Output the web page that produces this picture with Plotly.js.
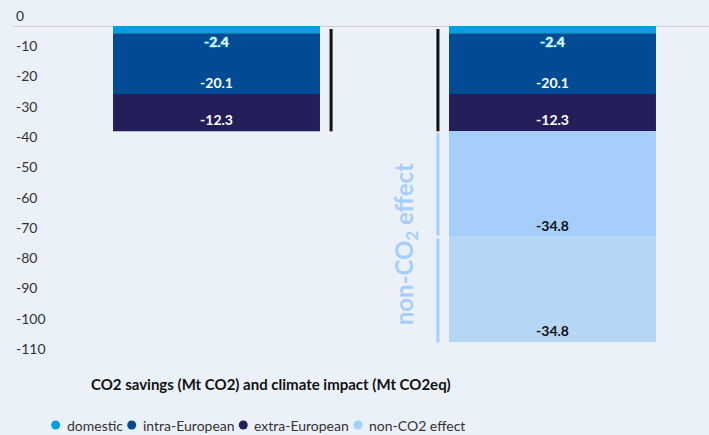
<!DOCTYPE html>
<html>
<head>
<meta charset="utf-8">
<script src="https://cdn.plot.ly/plotly-3.0.1.min.js"></script>
<style>
  html, body { margin: 0; padding: 0; background: #ebf1f9; }
  #chart { width: 709px; height: 435px; }
</style>
</head>
<body>
<div id="chart"></div>
<script>
// chart data
let categories = ['CO2 savings', 'climate impact']
let domestic = [-2.4, -2.4]
let intraEuropean = [-20.1, -20.1]
let extraEuropean = [-12.3, -12.3]
let nonCO2 = [null, -34.8]
let nonCO2Upper = [null, -34.8]
let tickValues = [0, -10, -20, -30, -40, -50, -60, -70, -80, -90, -100, -110]
let legendNames = ['domestic', 'intra-European', 'extra-European', 'non-CO2 effect']

let colors = {
    domestic: '#009fe3',
    intra: '#004b93',
    extra: '#241f5b',
    nonCO2: '#a5cffa',
    nonCO2Upper: '#b5d6f4'
}
let legendColors = [colors.domestic, colors.intra, colors.extra, colors.nonCO2]

const FONT = 'Lato, "Noto Sans", sans-serif'
const LEGEND_SIZE = 14
const BAR_WIDTH = 0.616
// plot area in pixels, used to place the hand made legend
const PLOT = {left: 13, right: 709, top: 26, bottom: 359}

let fmt = v => (v === null ? '' : v.toFixed(1))
let px2x = px => (px - PLOT.left) / (PLOT.right - PLOT.left)
let px2y = py => (PLOT.bottom - py) / (PLOT.bottom - PLOT.top)

let barTrace = (name, values, color, textColor) => {
    // only keep categories that have a value, so no empty labels get drawn
    let idx = values.map((v, i) => i).filter(i => values[i] !== null)
    return {
        type: 'bar',
        x: idx.map(i => categories[i]),
        y: idx.map(i => values[i]),
        name: name,
        width: BAR_WIDTH,
        marker: {color: color, line: {width: 0}},
        text: idx.map(i => fmt(values[i])),
        textposition: 'inside',
        insidetextanchor: 'end',
        textfont: {family: FONT, size: 14, color: textColor, weight: 700},
        showlegend: false,
        hoverinfo: 'skip'
    }
}

// domestic segments are too thin for their labels, they get annotations below
let domesticBars = barTrace('domestic', domestic, colors.domestic, '#fff')
delete domesticBars.text
domesticBars.textposition = 'none'

let traces = [
    domesticBars,
    barTrace('intra-European', intraEuropean, colors.intra, '#fff'),
    barTrace('extra-European', extraEuropean, colors.extra, '#fff'),
    barTrace('non-CO2 effect', nonCO2, colors.nonCO2, '#111'),
    barTrace('non-CO2 effect', nonCO2Upper, colors.nonCO2Upper, '#111')
]

let domesticLabels = categories.map((c, i) => ({
    xref: 'x', yref: 'y',
    x: c, y: domestic[i],
    yanchor: 'top', yshift: 2,
    text: fmt(domestic[i]),
    showarrow: false,
    font: {family: FONT, size: 14, color: '#fff', weight: 700,
        shadow: '0 0 2px #1aa9ea, 0 0 2px #1aa9ea, 0 0 1px #1aa9ea'}
}))

// bracket lines next to the bars, taken from the stacked totals
let co2Total = domestic[1] + intraEuropean[1] + extraEuropean[1]
let firstNonCO2End = co2Total + nonCO2[1]
let secondNonCO2End = firstNonCO2End + nonCO2Upper[1]

let bracket = (x, y0, y1, color) => ({
    type: 'line', xref: 'x', yref: 'y',
    x0: x, x1: x, y0: y0, y1: y1,
    line: {color: color, width: 3}
})

let shapes = [
    bracket(0.341, -1, co2Total, '#111'),
    bracket(0.659, -1, co2Total, '#111'),
    bracket(0.659, co2Total - 0.6, firstNonCO2End + 0.4, colors.nonCO2),
    bracket(0.659, firstNonCO2End - 0.6, secondNonCO2End - 0.2, colors.nonCO2)
]

// legend: dots and labels below the axis title, laid out by text width
let ctx = document.createElement('canvas').getContext('2d')
ctx.font = `${LEGEND_SIZE}px Lato`
let widths = legendNames.map(n => ctx.measureText(n).width)
let totalWidth = widths.reduce((a, w) => a + w + 20, 0) - 10
let cursor = 260 - totalWidth / 2
let legendY = px2y(425)
let legendAnnotations = []
legendNames.forEach((name, i) => {
    shapes.push({
        type: 'circle', xref: 'paper', yref: 'paper',
        xsizemode: 'pixel', ysizemode: 'pixel',
        xanchor: px2x(cursor), yanchor: legendY,
        x0: -4.5, x1: 4.5, y0: -4.5, y1: 4.5,
        fillcolor: legendColors[i], line: {width: 0}
    })
    legendAnnotations.push({
        xref: 'paper', yref: 'paper',
        x: px2x(cursor + 9), y: legendY,
        xanchor: 'left', yanchor: 'middle',
        text: name,
        showarrow: false,
        font: {family: FONT, size: LEGEND_SIZE, color: '#333'}
    })
    cursor += widths[i] + 20
})

let layout = {
    width: 709,
    height: 435,
    margin: {l: PLOT.left, r: 709 - PLOT.right, t: PLOT.top, b: 435 - PLOT.bottom},
    paper_bgcolor: '#ebf1f9',
    plot_bgcolor: '#ebf1f9',
    barmode: 'relative',
    showlegend: false,
    font: {family: FONT, size: 14, color: '#333'},
    xaxis: {
        type: 'category',
        categoryarray: categories,
        range: [-0.6057, 1.4658],
        showticklabels: false,
        showgrid: false,
        zeroline: false,
        showline: false,
        fixedrange: true
    },
    yaxis: {
        range: [-110, 0],
        tickvals: tickValues,
        ticktext: tickValues.map(String),
        ticklabelposition: 'inside',
        ticklabeloverflow: 'allow',
        ticklabelshift: -10,
        ticklabelstandoff: 0,
        tickfont: {family: FONT, size: 14, color: '#333'},
        showgrid: false,
        zeroline: true,
        zerolinecolor: '#c9ced6',
        zerolinewidth: 1,
        showline: false,
        fixedrange: true
    },
    shapes: shapes,
    annotations: [
        {
            xref: 'paper', yref: 'paper',
            x: px2x(271), y: px2y(384),
            xanchor: 'center', yanchor: 'middle',
            text: 'CO2 savings (Mt CO2) and climate impact (Mt CO2eq)',
            showarrow: false,
            font: {family: FONT, size: 15, color: '#111', weight: 700}
        },
        {
            xref: 'x', yref: 'y',
            x: 0.565, y: -72,
            text: 'non-CO<sub>2</sub> effect',
            textangle: -90,
            showarrow: false,
            font: {family: FONT, size: 24, color: colors.nonCO2, weight: 700}
        }
    ].concat(domesticLabels, legendAnnotations)
}

Plotly.newPlot('chart', traces, layout, {displayModeBar: false, staticPlot: true})
</script>
</body>
</html>
